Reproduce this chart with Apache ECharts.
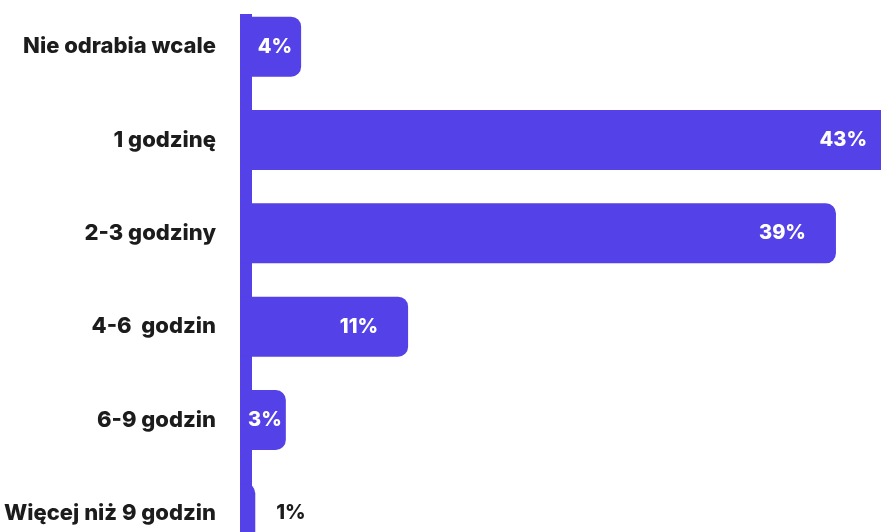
<!DOCTYPE html>
<html>
<head>
<meta charset="utf-8">
<script src="https://cdn.jsdelivr.net/npm/echarts@6/dist/echarts.min.js"></script>
<style>
  html, body { margin: 0; padding: 0; background: #fff; overflow: hidden; }
  #main { width: 920px; height: 560px; }
</style>
</head>
<body>
<div id="main"></div>
<script>
// kategorie i wartości (%)
var categories = ['Nie odrabia wcale', '1 godzinę', '2-3 godziny', '4-6  godzin', '6-9 godzin', 'Więcej niż 9 godzin']
var values = [4, 43, 39, 11, 3, 1]

var barColor = '#5441e8'
var font = 'Inter, "Open Sans", sans-serif'

// etykiety: małe słupki mają etykietę bliżej końca albo na zewnątrz
var seriesData = values.map(function (v) {
  var label
  if (v < 2) {
    label = { position: 'right', color: '#1c1c1c', distance: 21 }
  } else if (v < 5) {
    label = { position: 'insideRight', distance: v < 4 ? 4 : 9 }
  } else {
    label = { position: 'insideRight', distance: 30 }
  }
  return { value: v, label: label }
})

var myChart = echarts.init(document.getElementById('main'))
myChart.setOption({
  animation: false,
  grid: {
    left: 240,
    right: 0,
    top: -2,
    bottom: 0,
    containLabel: false
  },
  xAxis: {
    type: 'value',
    min: 0,
    max: 44.5,
    show: false
  },
  yAxis: {
    type: 'category',
    inverse: true,
    data: categories,
    axisLine: { show: false },
    axisTick: { show: false },
    axisLabel: {
      margin: 24,
      color: '#1c1c1c',
      fontFamily: font,
      fontWeight: 800,
      fontSize: 22
    }
  },
  series: [
    {
      type: 'bar',
      data: seriesData,
      barWidth: 60,
      z: 3,
      itemStyle: {
        color: barColor,
        borderRadius: [0, 10, 10, 0]
      },
      label: {
        show: true,
        formatter: '{c}%',
        color: '#fff',
        fontFamily: font,
        fontWeight: 800,
        fontSize: 20
      }
    }
  ],
  graphic: [
    {
      type: 'rect',
      left: 240,
      top: 14,
      shape: { width: 12, height: 560 },
      style: { fill: barColor },
      z: 1
    }
  ]
})
</script>
</body>
</html>
